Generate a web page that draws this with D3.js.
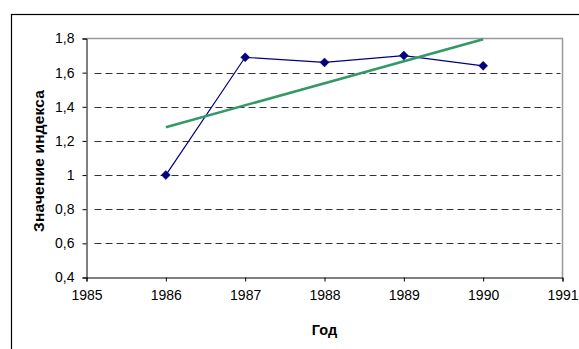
<!DOCTYPE html>
<html>
<head>
<meta charset="utf-8">
<script src="https://cdn.jsdelivr.net/npm/d3@7"></script>
<style>
  html, body { margin: 0; padding: 0; background: #fff; }
  svg { display: block; font-family: "Liberation Sans", Arial, sans-serif; }
</style>
</head>
<body>
<svg id="chart" width="579" height="349"></svg>
<script>
// Index values by year
const years = [1986, 1987, 1988, 1989, 1990];
const indexValues = [1.0, 1.69, 1.66, 1.70, 1.64];

// Axis ticks
const xTicks = [1985, 1986, 1987, 1988, 1989, 1990, 1991];
const yTicks = [0.4, 0.6, 0.8, 1.0, 1.2, 1.4, 1.6, 1.8];

const xTitle = "Год";
const yTitle = "Значение индекса";

const svg = d3.select("#chart");

// outer chart frame
svg.append("rect")
  .attr("x", 11.5).attr("y", 14.5)
  .attr("width", 700).attr("height", 400)
  .attr("fill", "#fff").attr("stroke", "#000").attr("stroke-width", 1.2);

const plot = { left: 86.5, right: 562.5, top: 38.5, bottom: 277.5 };

const x = d3.scaleLinear().domain([1985, 1991]).range([plot.left, plot.right]);
const y = d3.scaleLinear().domain([0.4, 1.8]).range([plot.bottom, plot.top]);

// dashed horizontal gridlines
svg.append("g")
  .selectAll("line")
  .data(yTicks.filter(v => v > 0.4 && v < 1.8))
  .join("line")
  .attr("x1", plot.left + 8).attr("x2", plot.right - 2)
  .attr("y1", d => Math.round(y(d)) + 0.5).attr("y2", d => Math.round(y(d)) + 0.5)
  .attr("stroke", "#333").attr("stroke-width", 1)
  .attr("stroke-dasharray", "7,4");

// plot area frame (top and right)
svg.append("path")
  .attr("d", `M${plot.left},${plot.top}H${plot.right}V${plot.bottom}`)
  .attr("fill", "none").attr("stroke", "#999").attr("stroke-width", 1.5);

const fmt = d => d3.format(".1f")(d).replace(".", ",").replace(/,0$/, "");

// y axis
const yAxis = svg.append("g")
  .attr("transform", `translate(${plot.left},0)`)
  .call(d3.axisLeft(y).tickValues(yTicks).tickSize(4).tickPadding(8).tickFormat(fmt));
yAxis.attr("font-size", 14).attr("font-family", "Liberation Sans, Arial, sans-serif");
yAxis.select(".domain").attr("stroke", "#000");
yAxis.selectAll(".tick line").attr("stroke", "#000");
yAxis.selectAll("text").attr("fill", "#000");

// x axis
const xAxis = svg.append("g")
  .attr("transform", `translate(0,${plot.bottom})`)
  .call(d3.axisBottom(x).tickValues(xTicks).tickSize(4).tickPadding(9).tickFormat(d3.format("d")));
xAxis.attr("font-size", 14).attr("font-family", "Liberation Sans, Arial, sans-serif");
xAxis.select(".domain").attr("stroke", "#000");
xAxis.selectAll(".tick line").attr("stroke", "#000");
xAxis.selectAll("text").attr("fill", "#000");

// axis titles
svg.append("text")
  .attr("x", x(1988)).attr("y", 335)
  .attr("text-anchor", "middle")
  .attr("font-size", 14.5).attr("font-weight", "bold")
  .text(xTitle);

svg.append("text")
  .attr("transform", `translate(43.5,${161}) rotate(-90)`)
  .attr("text-anchor", "middle")
  .attr("font-size", 15.5).attr("font-weight", "bold")
  .attr("textLength", 142).attr("lengthAdjust", "spacing")
  .text(yTitle);

const pts = years.map((yr, i) => ({ yr, v: indexValues[i] }));

// linear trend (least squares) over the series
const mx = d3.mean(years), my = d3.mean(indexValues);
const slope = d3.sum(pts, p => (p.yr - mx) * (p.v - my)) / d3.sum(pts, p => (p.yr - mx) ** 2);
const trend = [years[0], years[years.length - 1]].map(yr => ({ yr, v: my + slope * (yr - mx) }));

// data line
svg.append("path")
  .datum(pts)
  .attr("fill", "none").attr("stroke", "#000080").attr("stroke-width", 1.2)
  .attr("d", d3.line().x(d => x(d.yr)).y(d => y(d.v)));

// trend line
svg.append("path")
  .datum(trend)
  .attr("fill", "none").attr("stroke", "#339966").attr("stroke-width", 2.6)
  .attr("d", d3.line().x(d => x(d.yr)).y(d => y(d.v)));

// diamond markers
svg.append("g")
  .selectAll("path")
  .data(pts)
  .join("path")
  .attr("transform", d => `translate(${x(d.yr)},${y(d.v)})`)
  .attr("d", "M0,-4.5L4.5,0L0,4.5L-4.5,0Z")
  .attr("fill", "#000080").attr("stroke", "#000080").attr("stroke-width", 0.5);
</script>
</body>
</html>
